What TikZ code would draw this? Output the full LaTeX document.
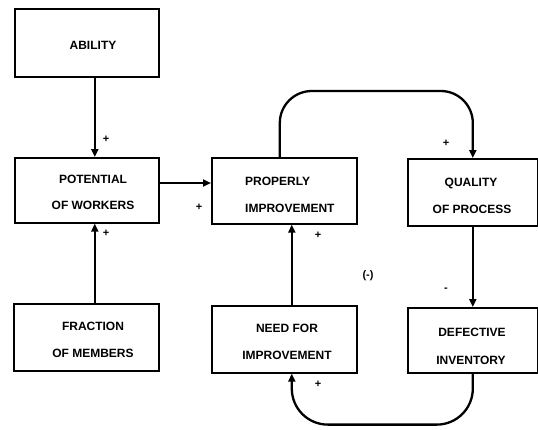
\documentclass[tikz,border=0pt]{standalone}
\usepackage{fontspec}
\setmainfont{Liberation Sans}
\usetikzlibrary{arrows.meta}
\begin{document}
\begin{tikzpicture}[x=1pt,y=-1pt,
  box/.style={draw, line width=1.6pt, minimum width=#1, inner sep=0pt, anchor=north west},
  lbl/.style={font=\fontsize{12}{14}\selectfont\bfseries, inner sep=0pt},
  sgn/.style={font=\fontsize{11}{11}\selectfont\bfseries, inner sep=0pt},
  link/.style={line width=2.3pt, -{Triangle[length=8pt,width=7pt]}}]
\useasboundingbox (0,0) rectangle (538,429);

% boxes
\node[box=144pt, minimum height=68pt] (ability)   at (14,8)    {};
\node[box=144pt, minimum height=65pt] (potential) at (14,157)  {};
\node[box=145pt, minimum height=67pt] (fraction)  at (13,303)  {};
\node[box=145pt, minimum height=66pt] (properly)  at (211,157) {};
\node[box=145pt, minimum height=67pt] (need)      at (211,305) {};
\node[box=130pt, minimum height=67pt] (quality)   at (407,158) {};
\node[box=130pt, minimum height=65pt] (defective) at (407,307) {};

% box texts
\node[lbl] (t1)  at (93,45)  {ABILITY};
\node[lbl] (t2)  at (93,179) {POTENTIAL};
\node[lbl] (t3)  at (93,205) {OF WORKERS};
\node[lbl] (t4)  at (93,326) {FRACTION};
\node[lbl] (t5)  at (93,353) {OF MEMBERS};
\node[lbl, anchor=west] (t6) at (245,181) {PROPERLY};
\node[lbl, anchor=west] (t7) at (245,208) {IMPROVEMENT};
\node[lbl] (t8)  at (287,328) {NEED FOR};
\node[lbl] (t9)  at (287,355) {IMPROVEMENT};
\node[lbl] (t10) at (471,183) {QUALITY};
\node[lbl] (t11) at (472,209) {OF PROCESS};
\node[lbl] (t12) at (472,332) {DEFECTIVE};
\node[lbl] (t13) at (471,360) {INVENTORY};

% straight links
\draw[link] ([xshift=8pt]ability.south) -- ([xshift=8pt]potential.north);
\draw[link] ([xshift=8.5pt]fraction.north) -- ([xshift=8pt]potential.south);
\draw[link] (potential.east |- 0,183) -- (properly.west |- 0,183);
\draw[link] ([xshift=7.5pt]need.north) -- ([xshift=7.5pt]properly.south);
\draw[link] (quality.south) -- (defective.north);

% loop links
\draw[link, rounded corners=32pt] ([xshift=-4.5pt]properly.north) -- ++(0,-66) -| (quality.north);
\draw[link, rounded corners=36pt] (defective.south) -- ++(0,51) -| ([xshift=7.5pt]need.south);

% polarity signs
\node[sgn] (p1) at (106,139) {+};
\node[sgn] (p2) at (106,233) {+};
\node[sgn] (p3) at (199,207) {+};
\node[sgn] (p4) at (318,235) {+};
\node[sgn] (p5) at (446,143) {+};
\node[sgn] (p6) at (318,384) {+};
\node[sgn] (m1) at (446,290) {-};
\node[sgn] (m2) at (368,276) {(-)};
\end{tikzpicture}
\end{document}
